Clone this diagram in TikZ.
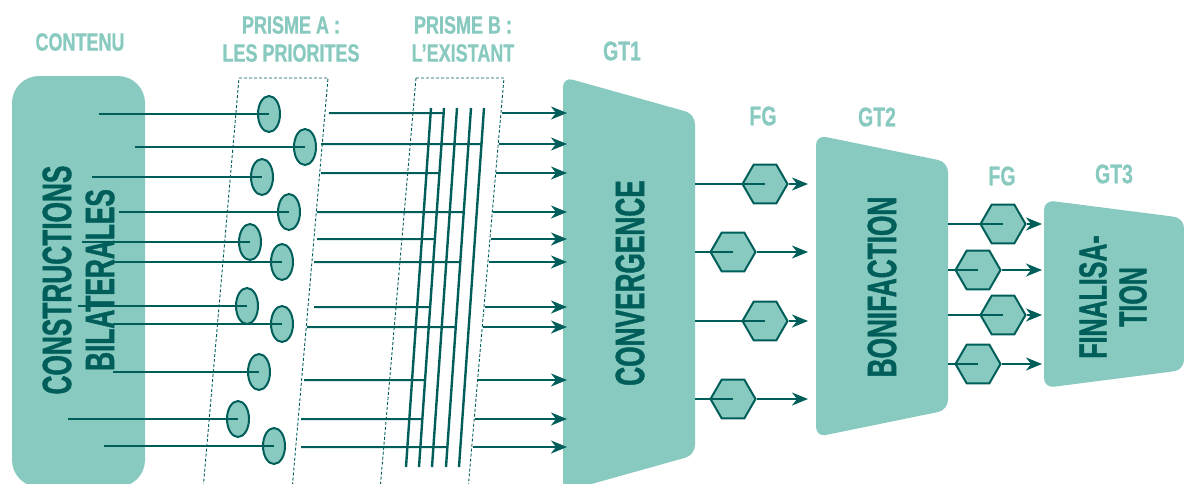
\documentclass[tikz,border=0pt]{standalone}
\usepackage{fontspec}
\setmainfont{Liberation Sans}
\newfontfamily\hdr[FakeStretch=0.72,FakeBold=0.6]{Liberation Sans Bold}
\newfontfamily\shp[FakeStretch=0.64,FakeBold=1]{Liberation Sans Bold}
\usetikzlibrary{shapes.geometric,arrows.meta,calc}
\definecolor{lt}{HTML}{88CAC0}
\definecolor{dk}{HTML}{005E5A}
\tikzset{
 hdrlabel/.style={font=\hdr\fontsize{25}{28}\selectfont, text=lt, align=center, inner sep=0pt},
 gtlabel/.style={font=\hdr\fontsize{27}{28}\selectfont, text=lt, inner sep=0pt},
 shapetext/.style={font=\shp\fontsize{41}{43}\selectfont, text=dk, rotate=90, align=center, inner sep=0pt},
 blockshape/.style={fill=lt, rounded corners=10pt},
 dot/.style={ellipse, draw=dk, fill=lt, line width=2pt, minimum width=22pt, minimum height=36pt, inner sep=0pt},
 hexa/.style={regular polygon, regular polygon sides=6, draw=dk, fill=lt, line width=2pt, minimum size=45pt, inner sep=0pt},
 wire/.style={draw=dk, line width=2pt},
 arrow/.style={wire, -{Stealth[length=16pt,width=13pt,inset=5pt]}},
 prism/.style={draw=dk, line width=0.9pt, dash pattern=on 3pt off 2pt},
 bar/.style={draw=dk, line width=2.4pt},
}
\begin{document}
\begin{tikzpicture}[x=1pt,y=-1pt]
\path[use as bounding box] (0,0) rectangle (1184,483);
\clip (0,0) rectangle (1184,483);

% blocks
\fill[lt, rounded corners=27pt] (12,76) rectangle (145,487);
\fill[blockshape] (563,77) -- (695,114) -- (695,455) -- (563,492) -- cycle;
\fill[blockshape] (816,135) -- (948,162) -- (948,410) -- (816,437) -- cycle;
\fill[blockshape] (1044,200) -- (1184,218) -- (1184,370) -- (1044,388) -- cycle;

% labels
\node[hdrlabel] (contenu) at (80,42) {CONTENU};
\node[hdrlabel] (prA) at (291,39) {PRISME A :\\LES PRIORITES};
\node[hdrlabel] (prB) at (463,39) {PRISME B :\\L’EXISTANT};
\node[gtlabel] (gt1) at (622,51) {GT1};
\node[gtlabel] (fg1) at (763,116) {FG};
\node[gtlabel] (gt2) at (877,117) {GT2};
\node[gtlabel] (fg2) at (1002,176) {FG};
\node[gtlabel] (gt3) at (1114,174) {GT3};

\node[shapetext] (cb) at (78.5,280) {CONSTRUCTIONS\\BILATERALES};
\node[shapetext] (conv) at (630,283) {CONVERGENCE};
\node[shapetext] (bon) at (882,287) {BONIFACTION};
\node[shapetext, font=\shp\fontsize{39}{40}\selectfont] (fin) at (1113,297) {FINALISA-\\TION};

% prisms
\draw[prism] (239,78) -- (328,78) -- (292,490) -- (203,490) -- cycle;
\draw[prism] (416,78) -- (504,78) -- (468,490) -- (380,490) -- cycle;

% left rows with ellipses
\foreach \i/\sx/\y/\ex in {1/99/114/269, 2/135/147/305, 3/92/177/262, 4/119/212/289, 5/82/242/250, 6/113/262/282, 7/78/306/247, 8/113/324/282, 9/113/372/259, 10/68/419/238, 11/104/446/274} {
  \node[dot] (e\i) at (\ex,\y) {};
  \coordinate (s\i) at (\sx,\y);
}
\foreach \i in {1,...,11} { \draw[wire] (s\i) -- (e\i.center); }

% vertical bars of prism B
\foreach \i/\tx/\bx in {1/431/406, 2/444/419, 3/457/432, 4/471/446, 5/484/459} {
  \coordinate (vt\i) at (\tx,108);
  \coordinate (vb\i) at (\bx,467);
  \draw[bar] (vt\i) -- (vb\i);
}

% middle rows
\foreach \i/\sx/\y/\v in {1/329/113/2, 2/321/144/5, 3/321/173/2, 4/317/212/4, 5/317/239/2, 6/314/262/4, 7/314/307/2, 8/307/327/4, 9/304/380/2, 10/301/419/2, 11/301/447/4} {
  \coordinate (m\i) at (\sx,\y);
  \coordinate (j\i) at ($(vt\v)!{(\y-108)/359}!(vb\v)$);
  \draw[wire] (m\i) -- (j\i);
}

% arrows into GT1
\foreach \i/\sx/\y in {1/502/113, 2/499/144, 3/496/173, 4/493/212, 5/491/239, 6/489/262, 7/485/307, 8/483/327, 9/478/380, 10/475/419, 11/473/447} {
  \coordinate (r\i) at (\sx,\y);
  \coordinate (t\i) at (567,\y);
  \draw[arrow] (r\i) -- (t\i);
}

% FG column 1
\foreach \i/\hx/\y in {1/765/184, 2/733/252, 3/765/321, 4/733/399} {
  \node[hexa] (f\i) at (\hx,\y) {};
  \coordinate (fo\i) at (695,\y);
  \coordinate (fa\i) at (808,\y);
  \draw[wire] (fo\i) -- (f\i.center);
  \draw[arrow] (f\i.east) -- (fa\i);
}

% FG column 2
\foreach \i/\hx/\y in {1/1003/224, 2/978/270, 3/1003/315, 4/978/364} {
  \node[hexa] (g\i) at (\hx,\y) {};
  \coordinate (go\i) at (948,\y);
  \coordinate (ga\i) at (1042,\y);
  \draw[wire] (go\i) -- (g\i.center);
  \draw[arrow] (g\i.east) -- (ga\i);
}
\end{tikzpicture}
\end{document}
